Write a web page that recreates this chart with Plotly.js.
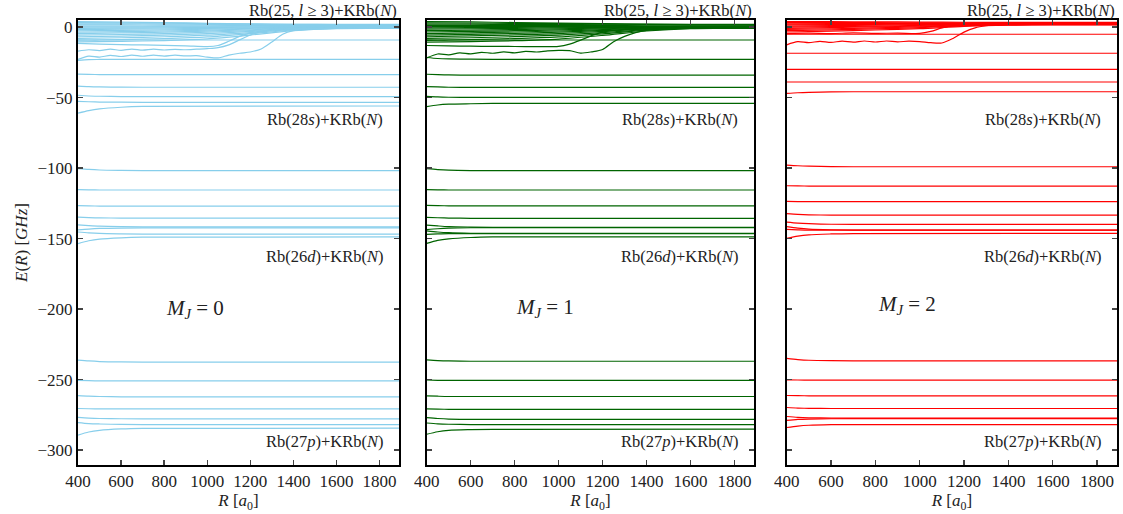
<!DOCTYPE html>
<html>
<head>
<meta charset="utf-8">
<script src="https://cdn.plot.ly/plotly-3.0.1.min.js"></script>
<style>html,body{margin:0;padding:0;background:#fff;}#chart{width:1123px;height:514px;}</style>
</head>
<body>
<div id="chart"></div>
<script>
// ---------- data (energies in GHz, R in a0) ----------
const panelNames = ["M_J = 0", "M_J = 1", "M_J = 2"];
const panelColors = ["#87CEEB", "#006400", "#FF0000"];

// grid used by the "fan" curves converging to Rb(25, l>=3)+KRb(N)
const R_FAN = [400, 600, 800, 1000, 1200, 1400, 1600, 1890];
// grid used by the nearly flat curves
const R_FLAT = [400, 450, 500, 600, 700, 1890];
// grid used by the oscillating curves with avoided crossings
const R_WAVE = [400, 450, 500, 550, 600, 650, 700, 750, 800, 850, 900, 950, 1000, 1050, 1100, 1150, 1200, 1250, 1300, 1350, 1400, 1500, 1600, 1890];
const R_RISE = [400, 500, 600, 700, 800, 900, 1000, 1050, 1100, 1150, 1200, 1300, 1400, 1600, 1890];

const fan_MJ0 = [
  [4.0, 3.6, 3.2, 2.8, 2.4, 2.1, 2.0, 2.0],
  [3.2, 3.0, 2.8, 2.5, 2.2, 2.0, 1.9, 1.9],
  [2.4, 2.3, 2.2, 2.0, 1.8, 1.7, 1.6, 1.6],
  [1.6, 1.6, 1.5, 1.4, 1.3, 1.2, 1.2, 1.2],
  [0.8, 0.8, 0.8, 0.8, 0.7, 0.6, 0.6, 0.6],
  [0.0, 0.1, 0.2, 0.3, 0.3, 0.2, 0.2, 0.2],
  [-0.8, -0.6, -0.4, -0.2, 0.0, 0.0, -0.1, -0.1],
  [-1.7, -1.4, -1.1, -0.8, -0.4, -0.2, -0.2, -0.2],
  [-2.6, -2.3, -1.9, -1.4, -0.8, -0.4, -0.3, -0.3],
  [-3.6, -3.2, -2.7, -2.1, -1.3, -0.6, -0.4, -0.3],
  [-4.6, -4.1, -3.5, -2.8, -1.8, -0.8, -0.4, -0.4],
  [-5.7, -5.2, -4.5, -3.6, -2.4, -1.0, -0.5, -0.4],
  [-6.8, -6.3, -5.6, -4.6, -3.0, -1.3, -0.6, -0.5],
  [-8.0, -7.5, -6.8, -5.7, -3.8, -1.6, -0.7, -0.5],
  [-9.2, -8.8, -8.1, -6.9, -4.6, -2.0, -0.8, -0.6],
  [-10.4, -10.0, -9.5, -8.3, -5.6, -2.5, -1.0, -0.6]
];
const fan_MJ1 = [
  [4.0, 3.7, 3.3, 2.9, 2.5, 2.2, 2.0, 2.0],
  [3.1, 2.9, 2.7, 2.5, 2.2, 2.0, 1.9, 1.8],
  [2.2, 2.1, 2.0, 1.9, 1.7, 1.6, 1.5, 1.5],
  [1.3, 1.3, 1.3, 1.2, 1.1, 1.0, 1.0, 1.0],
  [0.4, 0.5, 0.6, 0.6, 0.5, 0.4, 0.4, 0.4],
  [-0.5, -0.3, -0.1, 0.1, 0.1, 0.1, 0.0, 0.0],
  [-1.4, -1.1, -0.8, -0.5, -0.2, -0.1, -0.1, -0.1],
  [-2.4, -2.1, -1.7, -1.2, -0.6, -0.3, -0.2, -0.2],
  [-3.4, -3.0, -2.5, -1.9, -1.1, -0.5, -0.3, -0.3],
  [-4.5, -4.0, -3.4, -2.7, -1.7, -0.8, -0.4, -0.3],
  [-5.6, -5.1, -4.4, -3.5, -2.3, -1.0, -0.5, -0.4],
  [-6.8, -6.2, -5.5, -4.5, -3.0, -1.3, -0.6, -0.4],
  [-8.0, -7.5, -6.7, -5.6, -3.8, -1.7, -0.7, -0.5],
  [-9.3, -8.8, -8.1, -6.9, -4.7, -2.1, -0.8, -0.5],
  [-10.6, -10.2, -9.6, -8.4, -5.8, -2.7, -1.0, -0.6]
];
const fan_MJ2 = [
  [4.0, 3.9, 3.8, 3.6, 3.5, 3.4, 3.4, 3.4],
  [3.2, 3.2, 3.2, 3.1, 3.1, 3.1, 3.1, 3.1],
  [2.4, 2.5, 2.6, 2.7, 2.8, 2.8, 2.8, 2.8],
  [1.6, 1.8, 2.0, 2.2, 2.5, 2.6, 2.6, 2.6],
  [0.8, 1.1, 1.4, 1.8, 2.2, 2.4, 2.4, 2.4],
  [0.0, 0.4, 0.8, 1.3, 1.9, 2.2, 2.2, 2.2],
  [-0.8, -0.3, 0.2, 0.8, 1.6, 2.0, 2.1, 2.1],
  [-1.6, -1.1, -0.5, 0.3, 1.3, 1.8, 1.9, 1.9],
  [-2.5, -1.9, -1.2, -0.3, 1.0, 1.6, 1.8, 1.8],
  [-3.4, -2.8, -2.0, -1.0, 0.6, 1.4, 1.6, 1.6]
];

const flat_MJ0 = [
  [-9.0, -9.1, -9.1, -9.1, -9.1, -9.1],
  [-23.5, -23.0, -22.9, -22.8, -22.8, -22.8],
  [-33.3, -33.5, -33.6, -33.7, -33.7, -33.7],
  [-41.8, -42.2, -42.4, -42.5, -42.6, -42.6],
  [-48.3, -48.8, -49.0, -49.2, -49.3, -49.3],
  [-52.6, -52.9, -53.1, -53.2, -53.3, -53.3],
  [-61.0, -59.2, -58.0, -56.8, -56.2, -55.9],
  [-100.3, -100.9, -101.3, -101.6, -101.8, -101.8],
  [-115.3, -115.4, -115.5, -115.5, -115.5, -115.5],
  [-126.6, -126.8, -126.9, -126.9, -126.9, -126.9],
  [-134.8, -135.1, -135.3, -135.4, -135.4, -135.4],
  [-140.3, -140.8, -141.2, -141.5, -141.6, -141.6],
  [-143.8, -143.2, -142.8, -142.5, -142.4, -142.4],
  [-145.3, -145.9, -146.3, -146.6, -146.8, -146.8],
  [-153.5, -151.5, -150.3, -149.4, -149.0, -148.8],
  [-236.2, -236.8, -237.2, -237.5, -237.6, -237.6],
  [-250.6, -250.8, -250.9, -250.9, -250.9, -250.9],
  [-261.4, -261.8, -262.0, -262.2, -262.2, -262.2],
  [-270.5, -270.7, -270.8, -270.8, -270.8, -270.8],
  [-276.8, -277.3, -277.6, -277.8, -277.9, -277.9],
  [-280.5, -281.2, -281.5, -281.8, -281.9, -281.9],
  [-289.4, -287.2, -286.0, -285.0, -284.6, -284.5]
];
const flat_MJ1 = [
  [-9.0, -9.1, -9.1, -9.1, -9.1, -9.1],
  [-21.5, -22.2, -22.5, -22.7, -22.8, -22.8],
  [-33.4, -33.7, -33.9, -34.0, -34.0, -34.0],
  [-42.1, -42.4, -42.6, -42.7, -42.7, -42.7],
  [-49.1, -49.5, -49.7, -49.8, -49.8, -49.8],
  [-56.4, -55.2, -54.6, -54.3, -54.1, -54.1],
  [-100.4, -101.0, -101.4, -101.7, -101.8, -101.8],
  [-115.2, -115.4, -115.5, -115.5, -115.5, -115.5],
  [-126.4, -126.6, -126.7, -126.7, -126.7, -126.7],
  [-134.9, -135.2, -135.4, -135.6, -135.6, -135.6],
  [-140.4, -141.0, -141.5, -141.8, -142.0, -142.0],
  [-143.6, -143.0, -142.6, -142.3, -142.2, -142.2],
  [-144.5, -145.3, -145.8, -146.2, -146.3, -146.3],
  [-147.0, -146.7, -146.5, -146.4, -146.4, -146.4],
  [-153.4, -151.3, -150.2, -149.2, -148.8, -148.7],
  [-236.0, -236.5, -236.8, -237.0, -237.0, -237.0],
  [-250.3, -250.5, -250.6, -250.6, -250.6, -250.6],
  [-261.5, -261.8, -262.0, -262.0, -262.0, -262.0],
  [-270.8, -271.0, -271.1, -271.2, -271.2, -271.2],
  [-277.0, -277.6, -278.0, -278.2, -278.3, -278.3],
  [-280.8, -281.4, -281.7, -281.9, -282.0, -282.0],
  [-288.8, -287.0, -286.0, -285.5, -285.3, -285.2]
];
const flat_MJ2 = [
  [-5.0, -5.0, -5.0, -5.0, -5.0, -5.0],
  [-18.5, -18.5, -18.5, -18.5, -18.5, -18.5],
  [-29.9, -29.9, -29.9, -29.9, -29.9, -29.9],
  [-38.9, -38.9, -38.9, -38.9, -38.9, -38.9],
  [-47.0, -46.5, -46.2, -45.9, -45.8, -45.8],
  [-97.8, -98.3, -98.6, -98.9, -99.0, -99.0],
  [-112.5, -112.6, -112.7, -112.7, -112.7, -112.7],
  [-123.6, -123.7, -123.8, -123.8, -123.8, -123.8],
  [-132.3, -132.8, -133.1, -133.3, -133.3, -133.3],
  [-138.3, -139.0, -139.4, -139.8, -139.9, -139.9],
  [-141.5, -142.5, -143.2, -143.7, -143.9, -143.9],
  [-143.5, -143.8, -144.0, -144.0, -144.0, -144.0],
  [-149.8, -148.2, -147.3, -146.7, -146.4, -146.3],
  [-235.0, -235.8, -236.3, -236.6, -236.7, -236.7],
  [-250.2, -250.3, -250.4, -250.4, -250.4, -250.4],
  [-261.3, -261.4, -261.5, -261.5, -261.5, -261.5],
  [-269.8, -270.2, -270.4, -270.5, -270.5, -270.5],
  [-276.2, -276.8, -277.1, -277.3, -277.4, -277.4],
  [-279.0, -278.3, -278.0, -277.8, -277.7, -277.7],
  [-284.0, -283.0, -282.4, -282.0, -281.9, -281.9]
];

// curves with avoided crossings (on R_RISE)
const rise_MJ0 = [-11.5, -12.0, -12.4, -12.6, -12.9, -13.2, -13.8, -13.0, -10.0, -6.5, -4.0, -1.8, -0.9, -0.6, -0.5];
const rise_MJ1 = [-13.0, -13.3, -13.5, -13.6, -13.7, -13.8, -13.6, -12.0, -9.2, -6.0, -3.5, -1.5, -0.8, -0.5, -0.4];
const rise_MJ2 = [-4.5, -4.2, -4.5, -4.1, -4.4, -4.2, -4.4, -3.0, -0.5, 1.2, 1.8, 2.0, 2.0, 2.0, 2.0];
// oscillating curves (on R_WAVE)
const wave_MJ0 = [
  [-17.0, -16.0, -16.6, -15.6, -16.4, -15.5, -16.3, -15.6, -16.2, -15.7, -16.0, -15.6, -15.2, -14.5, -12.5, -9.0, -5.5, -3.2, -2.0, -1.4, -1.0, -0.8, -0.7, -0.6],
  [-22.8, -20.5, -21.2, -20.0, -20.8, -19.8, -20.6, -19.8, -20.5, -19.8, -20.4, -20.2, -21.2, -21.8, -19.8, -18.5, -17.6, -15.5, -10.5, -5.0, -2.5, -1.1, -0.8, -0.6]
];
const wave_MJ1 = [
  [-21.8, -19.0, -19.6, -18.2, -18.9, -17.8, -18.5, -17.5, -18.2, -17.2, -17.6, -16.8, -16.4, -16.6, -18.4, -17.5, -15.8, -10.3, -6.5, -3.8, -2.2, -1.0, -0.6, -0.5]
];
const wave_MJ2 = [
  [-12.5, -10.3, -11.0, -10.0, -10.8, -9.9, -10.6, -9.8, -10.5, -9.8, -10.4, -9.9, -10.2, -11.0, -11.2, -8.0, -3.5, -0.5, 1.0, 1.8, 2.2, 2.4, 2.4, 2.4]
];

// ---------- build traces ----------
const panels = [
  {fan: fan_MJ0, flat: flat_MJ0, rise: rise_MJ0, wave: wave_MJ0},
  {fan: fan_MJ1, flat: flat_MJ1, rise: rise_MJ1, wave: wave_MJ1},
  {fan: fan_MJ2, flat: flat_MJ2, rise: rise_MJ2, wave: wave_MJ2}
];
const traces = [];
panels.forEach((p, i) => {
  const xa = i === 0 ? 'x' : 'x' + (i + 1);
  const ya = i === 0 ? 'y' : 'y' + (i + 1);
  const ln = {color: panelColors[i], width: 1.2, shape: 'spline', smoothing: 0.8};
  const add = (xs, ys) => traces.push({x: xs, y: ys, xaxis: xa, yaxis: ya, type: 'scatter', mode: 'lines', line: ln, hoverinfo: 'skip'});
  p.flat.forEach(e => add(R_FLAT, e));
  p.fan.forEach(e => add(R_FAN, e));
  add(R_RISE, p.rise);
  p.wave.forEach(e => add(R_WAVE, e));
});

// ---------- layout ----------
const FONT = 'Liberation Serif, DejaVu Serif, serif';
const W = 1123, H = 514;
const doms = [[78, 399], [426.7, 754.3], [786.7, 1117]];
const yDom = [(H - 465) / H, (H - 20) / H];
const tickVals = [400, 600, 800, 1000, 1200, 1400, 1600, 1800];

function xAxis(i) {
  return {
    domain: [doms[i][0] / W, doms[i][1] / W],
    anchor: i === 0 ? 'y' : 'y' + (i + 1),
    range: [400, 1890], tickvals: tickVals, ticks: 'inside', ticklen: 5, tickwidth: 1.5,
    showline: true, linewidth: 2, linecolor: '#000', mirror: 'ticks', showgrid: false, zeroline: false,
    tickfont: {family: FONT, size: 17, color: '#222'},
    title: {text: '<i>R</i> [<i>a</i><sub>0</sub>]', font: {family: FONT, size: 17, color: '#222'}, standoff: 2}
  };
}
function yAxis(i) {
  const ax = {
    domain: yDom, anchor: i === 0 ? 'x' : 'x' + (i + 1),
    range: [-310.6, 5.1], tickvals: [0, -50, -100, -150, -200, -250, -300], ticks: 'inside', ticklen: 5, tickwidth: 1.5,
    showline: true, linewidth: 2, linecolor: '#000', mirror: 'ticks', showgrid: false, zeroline: false,
    showticklabels: i === 0,
    tickfont: {family: FONT, size: 17, color: '#222'}
  };
  if (i === 0) ax.title = {text: '<i>E</i>(<i>R</i>) [<i>GHz</i>]', font: {family: FONT, size: 17, color: '#222'}, standoff: 6};
  return ax;
}

const annFont = {family: FONT, size: 16.5, color: '#222'};
const annotations = [];
const labelRows = [
  {t: 'Rb(25, <i>l</i> ≥ 3)+KRb(<i>N</i>)', y: 10, off: 0},
  {t: 'Rb(28<i>s</i>)+KRb(<i>N</i>)', y: 119, off: 14},
  {t: 'Rb(26<i>d</i>)+KRb(<i>N</i>)', y: 256, off: 14},
  {t: 'Rb(27<i>p</i>)+KRb(<i>N</i>)', y: 441, off: 14}
];
doms.forEach((d, i) => {
  labelRows.forEach(r => annotations.push({
    xref: 'paper', yref: 'paper', x: (d[1] - r.off) / W, y: 1 - r.y / H,
    xanchor: 'right', yanchor: 'middle', showarrow: false, text: r.t, font: annFont
  }));
});
const mjPos = [[195, 309], [545, 308], [907, 305]];
mjPos.forEach((p, i) => annotations.push({
  xref: 'paper', yref: 'paper', x: p[0] / W, y: 1 - p[1] / H, xanchor: 'center', yanchor: 'middle',
  showarrow: false, text: '<i>M<sub>J</sub></i> = ' + i, font: {family: FONT, size: 21, color: '#222'}
}));

const layout = {
  width: W, height: H, margin: {l: 0, r: 0, t: 0, b: 0},
  paper_bgcolor: '#fff', plot_bgcolor: '#fff', showlegend: false, hovermode: false,
  xaxis: xAxis(0), xaxis2: xAxis(1), xaxis3: xAxis(2),
  yaxis: yAxis(0), yaxis2: yAxis(1), yaxis3: yAxis(2),
  annotations: annotations
};
Plotly.newPlot('chart', traces, layout, {staticPlot: true, displayModeBar: false});
</script>
</body>
</html>
